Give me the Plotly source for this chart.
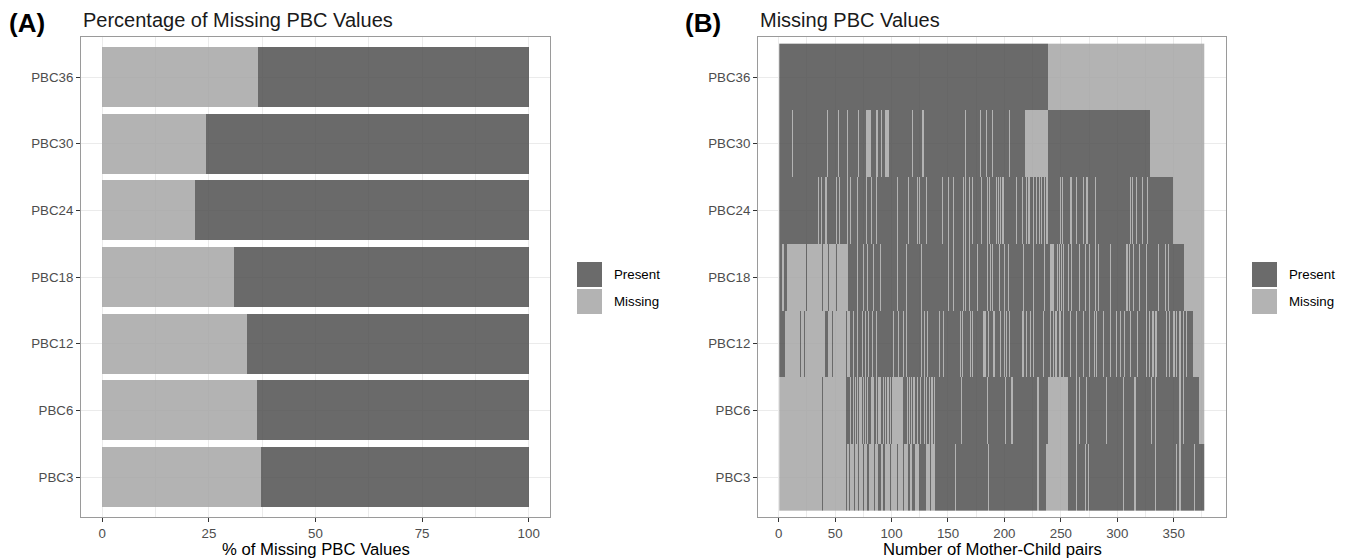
import numpy as np
import plotly.graph_objects as go

# the page body has an 8px default margin: the figure is sized/offset to compensate
OX, OY = 8, 8
W, H = 1348 - OX, 560 - OY

# ---------------- data ----------------
categories = ["PBC3", "PBC6", "PBC12", "PBC18", "PBC24", "PBC30", "PBC36"]

# Panel A: percentage of missing / present values per variable
missing_pct = [37.3, 36.2, 34.0, 30.8, 21.8, 24.4, 36.6]
present_pct = [62.7, 63.8, 66.0, 69.2, 78.2, 75.6, 63.4]

# Panel B: missing pattern per variable over the mother-child pairs
n_pairs = 377
# entries: single pair position (int) or half-open run (start, end) of missing values
miss_pbc36 = [(238, 377)]
miss_pbc30 = [11, 42, 52, 60, 70, 77, 78, 79, 80, 86, 87, 90, 94, 95, 96, 118, 127,
              165, 178, 183, 189, 204, (218, 238), (329, 377)]
miss_pbc24 = [34, 37, 41, 50, 53, 60, 63, 69, 77, 81, 86, 104, 114, 122, 124, 130,
              144, 150, 154, 163, 165, 168, 171, 179, 184, 186, 192, 194, 196, 198,
              210, 215, 219, 221, 225, 228, 230, 232, 235, 237, 249, 251, 258, 259,
              263, 269, 272, 273, 280, 311, 313, 316, 322, 326, (349, 377)]
miss_pbc18 = [(2, 4), (7, 24), (25, 38), (39, 43), (44, 50), (51, 61),
              69, 74, 78, 83, 89, 104, 112, 126, 150, 154, 163, 165, 168, 175, 184,
              187, 189, 195, 199, 203, 216, 225, 235, (240, 244), 246, 248, 250, 252,
              256, 259, 266, 271, 275, 280, 283, 293, 308, 310, 314, 319, 325, 336,
              342, 345, (359, 377)]
miss_pbc12 = [(5, 18), (19, 22), (23, 41), (43, 47), (48, 59), (60, 63),
              65, 69, 73, 76, 79, 82, 86, 101, 105, 110, 112, 126, 128, 131, 142, 145,
              160, 162, 169, 171, 181, 182, 185, 190, 196, 199, 201, 204, 215, 216,
              219, 222, 225, 234, 240, 243, 245, 248, 249, 252, 258, 263, 269, 275,
              279, 281, 287, 293, 299, 302, 306, 311, 317, 325, 328, 331, 333, 334,
              343, 346, 349, 350, 352, 355, 358, 361, (367, 377)]
miss_pbc6 = [(0, 38), (39, 59), 63, 65, 67, 69, 71, 72, 74, 76, 78, 81, 82, 83, 86,
             88, 89, 92, 94, 96, 98, (100, 110), 113, 115, 117, 119, 122, 125, 128,
             130, 133, 135, 137, 161, 184, 200, 206, 229, (238, 256), 263, 266, 272,
             290, 305, 315, 330, 333, 355, 358, (372, 377)]
miss_pbc3 = [(0, 38), (39, 59), (60, 62), (63, 66), (67, 70), (71, 74), (75, 78),
             (80, 84), (85, 88), (90, 92), (94, 98), (99, 104), (105, 110), (111, 114),
             (116, 118), (120, 124), (130, 134), (135, 138), 156, 185, 229, 237,
             (238, 256), 263, 271, 274, 305, 315, 333, 352, 355, 368]

row_patterns = [miss_pbc3, miss_pbc6, miss_pbc12, miss_pbc18, miss_pbc24, miss_pbc30, miss_pbc36]

# ---------------- styles ----------------
FONT = "Liberation Sans, Arial, Helvetica, sans-serif"
DARK, LIGHT = "#6b6b6b", "#b3b3b3"
ALPHA = 0.85
DARK_FILL = "#515151"   # gives DARK over white with ALPHA
LIGHT_FILL = "#a6a6a6"  # gives LIGHT over white with ALPHA
GRID = "#ebebeb"
FRAME = "#9a9a9a"
TICKTXT = "#4d4d4d"


def px_x(p):
    return (p - OX) / W


def px_y(p):
    return 1 - (p - OY) / H


# build matrix (1 = present, 0 = missing)
Z = np.ones((len(categories), n_pairs))
for r, pat in enumerate(row_patterns):
    for it in pat:
        if isinstance(it, tuple):
            Z[r, it[0]:it[1]] = 0
        else:
            Z[r, it] = 0
pairs = np.arange(1, n_pairs + 1)

fig = go.Figure()

fig.add_trace(go.Bar(
    y=categories, x=missing_pct, orientation="h", name="Missing",
    marker=dict(color=LIGHT_FILL, line=dict(width=0)), opacity=ALPHA,
    width=0.9, xaxis="x", yaxis="y", showlegend=False,
))
fig.add_trace(go.Bar(
    y=categories, x=present_pct, orientation="h", name="Present",
    marker=dict(color=DARK_FILL, line=dict(width=0)), opacity=ALPHA,
    width=0.9, xaxis="x", yaxis="y", showlegend=False,
))

fig.add_trace(go.Heatmap(
    z=Z, x=pairs, y=categories,
    colorscale=[[0, LIGHT_FILL], [0.5, LIGHT_FILL], [0.5, DARK_FILL], [1, DARK_FILL]],
    zmin=0, zmax=1, showscale=False, opacity=ALPHA,
    xaxis="x2", yaxis="y2", hoverinfo="skip",
))

# frame boxes (page pixels)
A_L, A_R = 81, 550
B_L, B_R = 758, 1226
TOP, BOT = 37, 517

common_x = dict(
    showgrid=True, gridcolor=GRID, gridwidth=1.4, zeroline=False,
    ticks="outside", ticklen=4, tickcolor="#333333", tickwidth=1,
    tickfont=dict(size=13.3, color=TICKTXT, family=FONT),
    showline=True, mirror=True, linecolor=FRAME, linewidth=1,
)
common_y = dict(
    showgrid=True, gridcolor=GRID, gridwidth=1.4, zeroline=False,
    ticks="outside", ticklen=4, tickcolor="#333333", tickwidth=1,
    tickfont=dict(size=13.3, color=TICKTXT, family=FONT),
    showline=True, mirror=True, linecolor=FRAME, linewidth=1,
    type="category", categoryorder="array", categoryarray=categories,
    range=[-0.6, 6.6],
)

fig.update_layout(
    width=W, height=H,
    margin=dict(l=0, r=0, t=0, b=0),
    paper_bgcolor="white", plot_bgcolor="white",
    barmode="stack", bargap=0.1,
    font=dict(family=FONT),
    xaxis=dict(domain=[px_x(A_L), px_x(A_R)], range=[-5, 105], anchor="y",
               tickvals=[0, 25, 50, 75, 100],
               minor=dict(tickvals=[12.5, 37.5, 62.5, 87.5], showgrid=True,
                          gridcolor=GRID, gridwidth=0.7, ticks=""),
               **common_x),
    yaxis=dict(domain=[px_y(BOT), px_y(TOP)], anchor="x", **common_y),
    xaxis2=dict(domain=[px_x(B_L), px_x(B_R)], range=[-18.35, 396.35], anchor="y2",
                tickvals=[0, 50, 100, 150, 200, 250, 300, 350],
                minor=dict(tickvals=[25, 75, 125, 175, 225, 275, 325, 375], showgrid=True,
                           gridcolor=GRID, gridwidth=0.7, ticks=""),
                **common_x),
    yaxis2=dict(domain=[px_y(BOT), px_y(TOP)], anchor="x2", **common_y),
)

ann = []
# panel tags and titles
ann.append(dict(text="<b>(A)</b>", x=px_x(7), y=px_y(23), xanchor="left", yanchor="middle",
                font=dict(size=26, color="black", family=FONT)))
ann.append(dict(text="Percentage of Missing PBC Values", x=px_x(A_L), y=px_y(20),
                xanchor="left", yanchor="middle", font=dict(size=20, color="#1a1a1a", family=FONT)))
ann.append(dict(text="<b>(B)</b>", x=px_x(683), y=px_y(23), xanchor="left", yanchor="middle",
                font=dict(size=26, color="black", family=FONT)))
ann.append(dict(text="Missing PBC Values", x=px_x(B_L), y=px_y(20),
                xanchor="left", yanchor="middle", font=dict(size=20, color="#1a1a1a", family=FONT)))
# axis titles
ann.append(dict(text="% of Missing PBC Values", x=px_x((A_L + A_R) / 2), y=px_y(549),
                xanchor="center", yanchor="middle", font=dict(size=16.7, color="black", family=FONT)))
ann.append(dict(text="Number of Mother-Child pairs", x=px_x((B_L + B_R) / 2), y=px_y(549),
                xanchor="center", yanchor="middle", font=dict(size=16.7, color="black", family=FONT)))

shapes = []
legend_items = [("Present", DARK), ("Missing", LIGHT)]
for left in (577, 1252):
    for i, (lab, col) in enumerate(legend_items):
        y0 = 262 + i * 27
        shapes.append(dict(type="rect", xref="paper", yref="paper",
                           x0=px_x(left), x1=px_x(left + 25), y0=px_y(y0 + 25), y1=px_y(y0),
                           fillcolor=col, line=dict(width=0), layer="above"))
        ann.append(dict(text=lab, x=px_x(left + 35), y=px_y(y0 + 12.5), xanchor="left",
                        yanchor="middle", font=dict(size=13.3, color="black", family=FONT)))

for a in ann:
    a.update(xref="paper", yref="paper", showarrow=False)
fig.update_layout(annotations=ann, shapes=shapes)

fig.write_html("out.html")
